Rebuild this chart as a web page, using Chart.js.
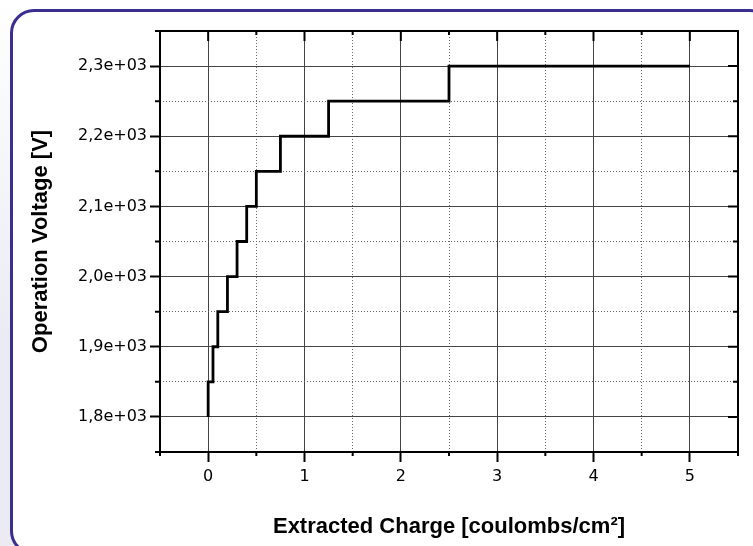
<!DOCTYPE html>
<html>
<head>
<meta charset="utf-8">
<script src="https://cdn.jsdelivr.net/npm/chart.js@4"></script>
<style>
  html, body { margin: 0; padding: 0; }
  body {
    width: 753px; height: 546px; overflow: hidden; position: relative;
    background: linear-gradient(to bottom, #ffffff 0px, #f4f3f8 200px, #ecebf3 340px, #ecebf3 546px);
  }
  #panel {
    position: absolute; left: 10px; top: 9px; width: 758px; height: 540px;
    border: 3px solid #3b2e91; border-radius: 24px; background: #fff;
  }
  #wrap { position: absolute; left: 0; top: 0; width: 753px; height: 546px; }
</style>
</head>
<body>
<div id="panel"></div>
<div id="wrap"><canvas id="chart"></canvas></div>
<script>
// step points: horizontal at each voltage, then rise at the next charge value
var charge  = [0, 0, 0.05, 0.1, 0.2, 0.3, 0.4, 0.5, 0.75, 1.25, 2.5, 5];
var voltage = [1800, 1850, 1900, 1950, 2000, 2050, 2100, 2150, 2200, 2250, 2300, 2300];

var xRange = [-0.5, 5.5];
var yRange = [1750, 2350];

document.addEventListener("DOMContentLoaded", function () {
  var points = charge.map(function (c, i) { return { x: c, y: voltage[i] }; });

  function isMajorX(v) { return Math.abs(v - Math.round(v)) < 1e-6; }
  function isMajorY(v) { return Math.abs(v / 100 - Math.round(v / 100)) < 1e-6; }

  // frame + inner ticks + short minor ticks
  var framePlugin = {
    id: 'frame',
    afterDraw: function (chart) {
      var ctx = chart.ctx, a = chart.chartArea;
      var xs = chart.scales.x, ys = chart.scales.y;
      ctx.save();
      ctx.strokeStyle = '#000';
      ctx.lineWidth = 2;
      ctx.beginPath();
      xs.ticks.forEach(function (t) {
        var px = xs.getPixelForValue(t.value);
        var major = isMajorX(t.value);
        var len = major ? 10 : 4;
        ctx.moveTo(px, a.top); ctx.lineTo(px, a.top + len);
        if (!major) { ctx.moveTo(px, a.bottom); ctx.lineTo(px, a.bottom + 4); }
      });
      ys.ticks.forEach(function (t) {
        var py = ys.getPixelForValue(t.value);
        var major = isMajorY(t.value);
        var len = major ? 10 : 5;
        ctx.moveTo(a.right, py); ctx.lineTo(a.right - len, py);
        if (!major) { ctx.moveTo(a.left, py); ctx.lineTo(a.left - 5, py); }
      });
      ctx.stroke();
      ctx.strokeRect(a.left, a.top, a.right - a.left, a.bottom - a.top);
      ctx.restore();
    }
  };

  new Chart(document.getElementById('chart'), {
    type: 'line',
    data: {
      datasets: [{
        data: points,
        borderColor: '#000',
        borderWidth: 2.8,
        stepped: 'before',
        pointRadius: 0,
        fill: false
      }]
    },
    options: {
      responsive: true,
      maintainAspectRatio: false,
      animation: false,
      layout: { padding: { top: 31, right: 15, bottom: 0, left: 0 } },
      plugins: { legend: { display: false }, tooltip: { enabled: false } },
      scales: {
        x: {
          type: 'linear',
          min: xRange[0], max: xRange[1],
          afterFit: function (s) { s.height = 94; },
          ticks: {
            stepSize: 0.5, autoSkip: false, maxRotation: 0, padding: 5,
            color: '#000', font: { family: 'DejaVu Sans', size: 16 },
            callback: function (v) { return isMajorX(v) ? String(Math.round(v)) : ''; }
          },
          grid: {
            color: function (c) { return isMajorX(c.tick.value) ? '#444' : '#666'; },
            lineWidth: 1,
            tickLength: 10,
            tickWidth: 2,
            tickColor: function (c) { return isMajorX(c.tick.value) ? '#000' : 'rgba(0,0,0,0)'; }
          },
          border: {
            display: false,
            dash: function (c) { return c.tick && isMajorX(c.tick.value) ? [] : [1, 2]; }
          },
          title: {
            display: true,
            text: 'Extracted Charge [coulombs/cm²]',
            color: '#000',
            font: { family: 'Liberation Sans', size: 22, weight: 'bold' },
            padding: { top: 0, bottom: 6 }
          }
        },
        y: {
          type: 'linear',
          min: yRange[0], max: yRange[1],
          afterFit: function (s) { s.width = 160; },
          ticks: {
            stepSize: 50, autoSkip: false, padding: 3,
            color: '#000', font: { family: 'DejaVu Sans', size: 16 },
            callback: function (v) {
              return isMajorY(v) ? (v / 1000).toFixed(1).replace('.', ',') + 'e+03' : '';
            }
          },
          grid: {
            color: function (c) { return isMajorY(c.tick.value) ? '#444' : '#666'; },
            lineWidth: 1,
            tickLength: 10,
            tickWidth: 2,
            tickColor: function (c) { return isMajorY(c.tick.value) ? '#000' : 'rgba(0,0,0,0)'; }
          },
          border: {
            display: false,
            dash: function (c) { return c.tick && isMajorY(c.tick.value) ? [] : [1, 2]; }
          },
          title: {
            display: true,
            text: 'Operation Voltage [V]',
            color: '#000',
            font: { family: 'Liberation Sans', size: 22, weight: 'bold' },
            padding: { top: 28, bottom: 0 }
          }
        }
      }
    },
    plugins: [framePlugin]
  });
});
</script>
</body>
</html>
